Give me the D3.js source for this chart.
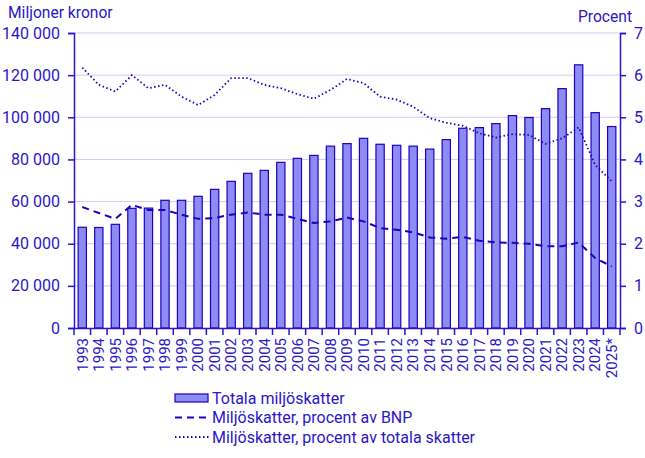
<!DOCTYPE html>
<meta charset="utf-8">
<script src="https://d3js.org/d3.v7.min.js"></script>
<style>
  body { margin: 0; background: #fff; }
  text { font-family: Roboto, "Liberation Sans", Arial, sans-serif; fill: #2a16c8; }
</style>
<div id="my_dataviz"></div>
<script>

// data
var years = ["1993","1994","1995","1996","1997","1998","1999","2000","2001","2002","2003",
  "2004","2005","2006","2007","2008","2009","2010","2011","2012","2013","2014","2015",
  "2016","2017","2018","2019","2020","2021","2022","2023","2024","2025*"];
var totalTaxes = [47800, 47700, 49200, 56800, 56900, 60600, 60600, 62500, 65800, 69600, 73400,
  74800, 78600, 80500, 81900, 86300, 87500, 90000, 87200, 86700, 86300, 84900, 89400,
  94800, 95100, 97000, 100800, 99900, 104100, 113600, 124900, 102200, 95600];
var pctGdp = [2.87, 2.73, 2.59, 2.92, 2.80, 2.80, 2.69, 2.59, 2.61, 2.69, 2.74,
  2.69, 2.69, 2.59, 2.49, 2.53, 2.62, 2.53, 2.37, 2.33, 2.27, 2.15, 2.12,
  2.16, 2.07, 2.03, 2.02, 2.00, 1.94, 1.94, 2.03, 1.66, 1.46];
var pctTaxes = [6.18, 5.77, 5.61, 6.00, 5.69, 5.77, 5.49, 5.29, 5.53, 5.93, 5.93,
  5.77, 5.69, 5.55, 5.44, 5.65, 5.91, 5.81, 5.49, 5.42, 5.25, 4.98, 4.87,
  4.80, 4.62, 4.52, 4.60, 4.58, 4.37, 4.50, 4.76, 3.87, 3.48];
var leftTicks = [0, 20000, 40000, 60000, 80000, 100000, 120000, 140000];
var rightTicks = [0, 1, 2, 3, 4, 5, 6, 7];

var ink = "#2a16c8";
var margin = {top: 33, right: 25, bottom: 130, left: 74},
    width = 645 - margin.left - margin.right,
    height = 458 - margin.top - margin.bottom;

var svg = d3.select("#my_dataviz")
  .append("svg")
    .attr("width", 645)
    .attr("height", 458)
  .append("g")
    .attr("transform", "translate(" + margin.left + "," + margin.top + ")");

var x = d3.scaleBand().domain(years).range([0, width]).paddingInner(0.5).paddingOuter(0.25);
var band = d3.scaleBand().domain(years).range([0, width]);
var yL = d3.scaleLinear().domain([0, 140000]).range([height, 0]);
var yR = d3.scaleLinear().domain([0, 7]).range([height, 0]);

var fmt = function(d) { return d3.format(",")(d).replace(/,/g, " "); };

// grid
svg.selectAll(".grid")
  .data(leftTicks.slice(1))
  .enter().append("line")
    .attr("x1", 0).attr("x2", width)
    .attr("y1", function(d) { return yL(d); })
    .attr("y2", function(d) { return yL(d); })
    .attr("stroke", "#cfcdee")
    .attr("stroke-width", 1);

// bars
svg.selectAll(".bar")
  .data(totalTaxes)
  .enter().append("rect")
    .attr("x", function(d, i) { return x(years[i]); })
    .attr("y", function(d) { return yL(d); })
    .attr("width", x.bandwidth())
    .attr("height", function(d) { return height - yL(d); })
    .attr("fill", "#8c8cf2")
    .attr("stroke", "#1e00be")
    .attr("stroke-width", 1.2);

// lines
var line = d3.line()
  .x(function(d, i) { return band(years[i]) + band.bandwidth() / 2; })
  .y(function(d) { return yR(d); });

svg.append("path")
  .datum(pctGdp)
  .attr("d", line)
  .attr("fill", "none")
  .attr("stroke", "#1e00be")
  .attr("stroke-width", 2)
  .attr("stroke-dasharray", "7,5");

svg.append("path")
  .datum(pctTaxes)
  .attr("d", line)
  .attr("fill", "none")
  .attr("stroke", "#1e00be")
  .attr("stroke-width", 1.8)
  .attr("stroke-dasharray", "1.5,2.5");

// axes
var axL = svg.append("g")
  .call(d3.axisLeft(yL).tickValues(leftTicks).tickFormat(fmt).tickSize(6).tickPadding(8));
var axR = svg.append("g")
  .attr("transform", "translate(" + width + ",0)")
  .call(d3.axisRight(yR).tickValues(rightTicks).tickFormat(d3.format("d")).tickSize(6).tickPadding(8));
var axB = svg.append("g")
  .attr("transform", "translate(0," + height + ")")
  .call(d3.axisBottom(band).tickSize(0).tickPadding(0));

[axL, axR].forEach(function(a) {
  a.select(".domain").attr("stroke", ink).attr("stroke-width", 1.5);
  a.selectAll(".tick line").attr("stroke", ink).attr("stroke-width", 1.5);
  a.selectAll("text").attr("fill", ink).style("font-size", "16px");
});
axB.select(".domain").attr("stroke", ink).attr("stroke-width", 1.5);
axB.selectAll("text")
  .attr("fill", ink)
  .style("font-size", "15px")
  .attr("transform", "rotate(-90)")
  .attr("x", -10)
  .attr("y", 0)
  .attr("dy", "0.35em")
  .style("text-anchor", "end");

// ticks between the categories
svg.selectAll(".xtick")
  .data(years.concat(["end"]))
  .enter().append("line")
    .attr("x1", function(d, i) { return i * band.step(); })
    .attr("x2", function(d, i) { return i * band.step(); })
    .attr("y1", height).attr("y2", height + 7)
    .attr("stroke", ink).attr("stroke-width", 1.5);

// axis titles
svg.append("text")
  .attr("x", -66).attr("y", -15)
  .style("font-size", "15.6px")
  .text("Miljoner kronor");
svg.append("text")
  .attr("x", width + 12).attr("y", -11)
  .attr("text-anchor", "end")
  .style("font-size", "15.6px")
  .text("Procent");

// legend
var lg = svg.append("g").attr("transform", "translate(101," + (height + 70) + ")");
lg.append("rect")
  .attr("x", 0).attr("y", -4).attr("width", 33).attr("height", 8)
  .attr("fill", "#8c8cf2").attr("stroke", "#1e00be").attr("stroke-width", 1.2);
lg.append("line")
  .attr("x1", 0).attr("x2", 36).attr("y1", 19.5).attr("y2", 19.5)
  .attr("stroke", "#1e00be").attr("stroke-width", 2).attr("stroke-dasharray", "7,5");
lg.append("line")
  .attr("x1", 0).attr("x2", 36).attr("y1", 39).attr("y2", 39)
  .attr("stroke", "#1e00be").attr("stroke-width", 1.8).attr("stroke-dasharray", "1.5,2.5");
var labels = ["Totala miljöskatter", "Miljöskatter, procent av BNP", "Miljöskatter, procent av totala skatter"];
lg.selectAll(".lt")
  .data(labels)
  .enter().append("text")
    .attr("x", 37)
    .attr("y", function(d, i) { return i * 19.5; })
    .attr("dy", "0.35em")
    .style("font-size", "16px")
    .text(function(d) { return d; });

</script>
